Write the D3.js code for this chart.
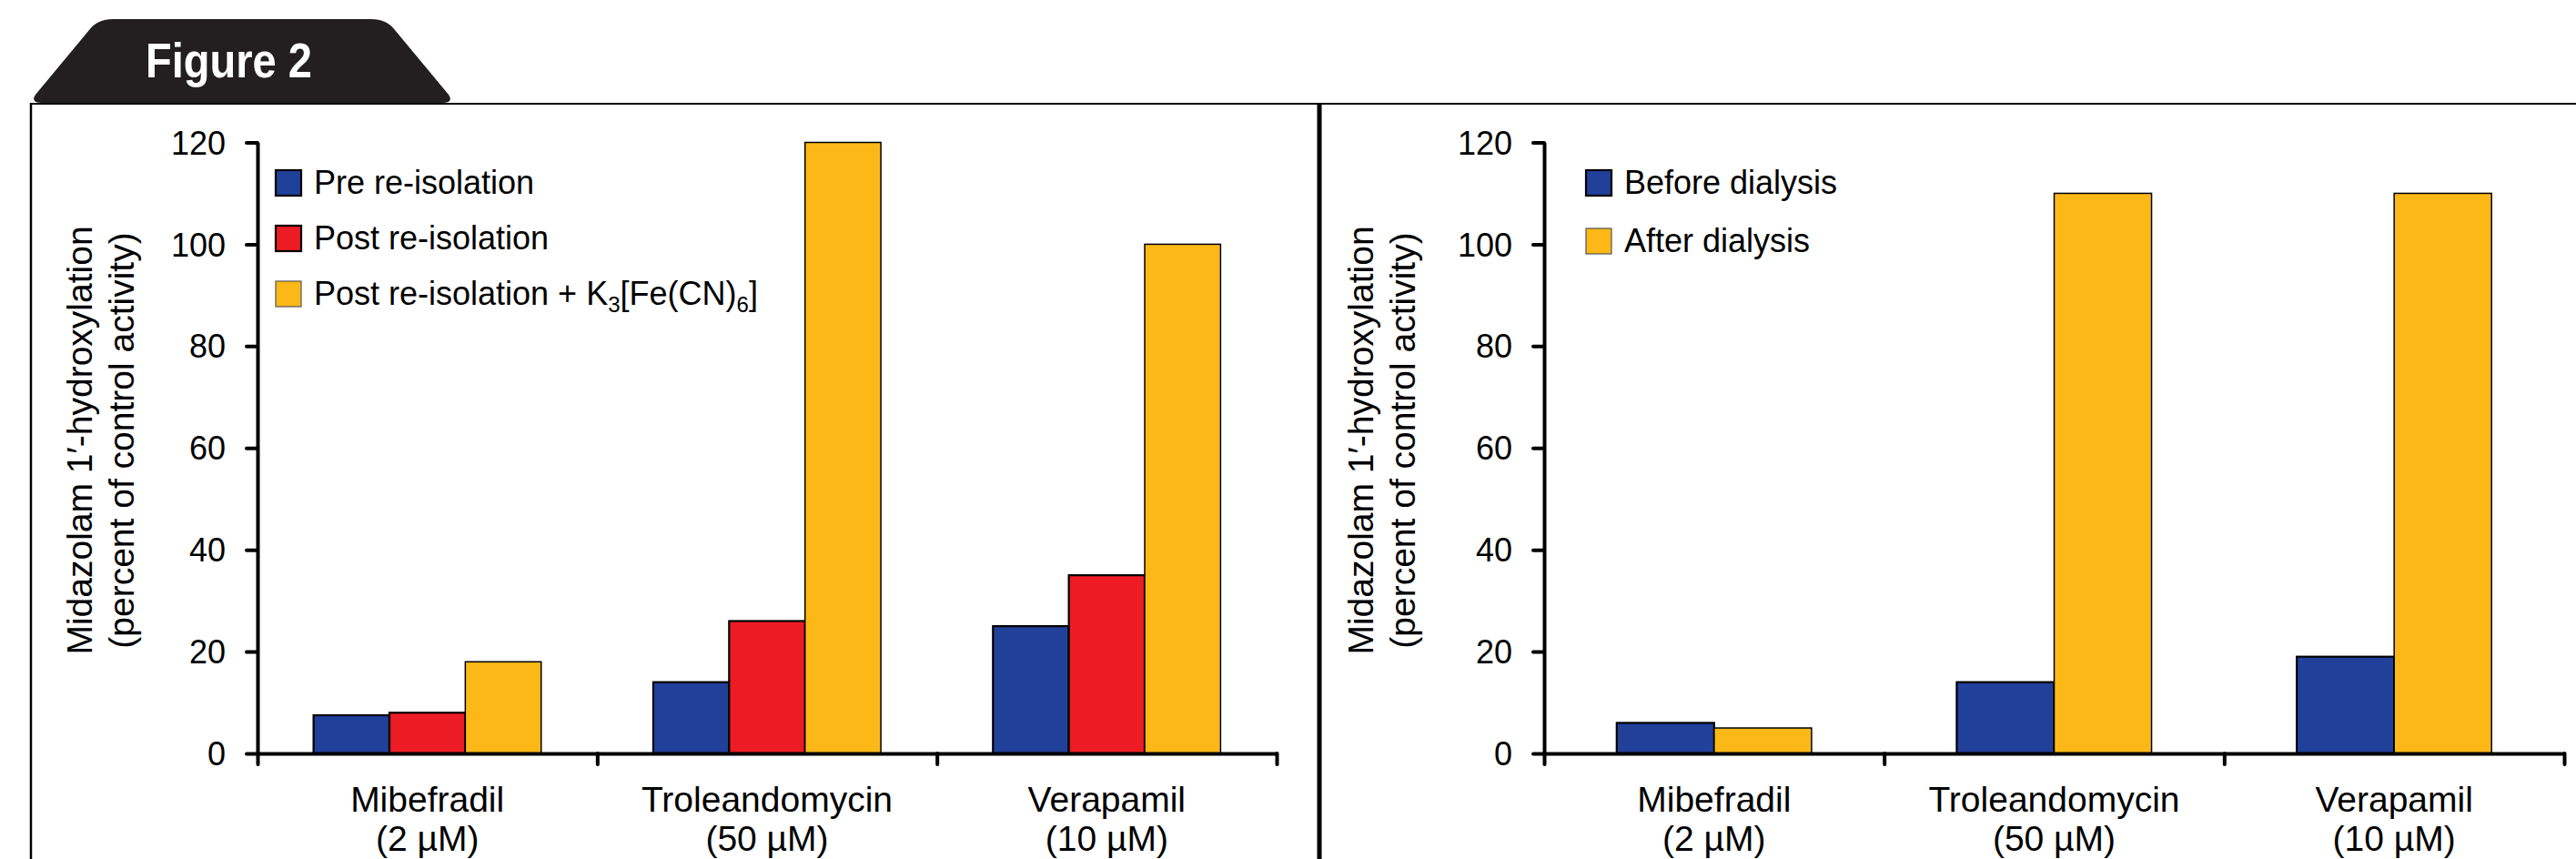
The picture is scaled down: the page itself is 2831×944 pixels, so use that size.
<!DOCTYPE html>
<html>
<head>
<meta charset="utf-8">
<script src="https://cdn.jsdelivr.net/npm/d3@7"></script>
<style>
  html, body { margin: 0; padding: 0; background: #fff; }
  svg { display: block; }
  text { font-family: "Liberation Sans", Arial, Helvetica, sans-serif; fill: #000; }
</style>
</head>
<body>
<svg id="chart" width="2831" height="944"></svg>
<script>
// ---------- DATA ----------
const figureTitle = "Figure 2";
const categories = ["Mibefradil", "Troleandomycin", "Verapamil"];
const concentrations = ["(2 µM)", "(50 µM)", "(10 µM)"];
const yTicks = [0, 20, 40, 60, 80, 100, 120];
const yAxisTitle = ["Midazolam 1′-hydroxylation", "(percent of control activity)"];

// Panel A
const seriesA = ["Pre re-isolation", "Post re-isolation", "Post re-isolation + K3[Fe(CN)6]"];
const preReisolation = [7.5, 14, 25];
const postReisolation = [8, 26, 35];
const postReisolationK3 = [18, 120, 100];

// Panel B
const seriesB = ["Before dialysis", "After dialysis"];
const beforeDialysis = [6, 14, 19];
const afterDialysis = [5, 110, 110];

const colors = ["#21409a", "#ed1c24", "#fbb817"];

// ---------- DRAW ----------
const svg = d3.select("#chart");

// header tab
svg.append("path")
  .attr("d", "M46,113 Q33,113 39,104 L98,33 Q107,21 124,21 L408,21 Q425,21 434,33 L493,104 Q499,113 486,113 Z")
  .attr("fill", "#231f20");
svg.append("text")
  .attr("x", 160).attr("y", 85)
  .attr("font-size", 53).attr("font-weight", "bold")
  .attr("textLength", 183).attr("lengthAdjust", "spacingAndGlyphs")
  .style("fill", "#fff")
  .text(figureTitle);

// frame lines
svg.append("line").attr("x1", 33).attr("x2", 2831).attr("y1", 114).attr("y2", 114)
  .attr("stroke", "#000").attr("stroke-width", 2);
svg.append("line").attr("x1", 34).attr("x2", 34).attr("y1", 113).attr("y2", 944)
  .attr("stroke", "#000").attr("stroke-width", 2.5);
svg.append("line").attr("x1", 1450).attr("x2", 1450).attr("y1", 113).attr("y2", 944)
  .attr("stroke", "#000").attr("stroke-width", 5);

const y = d3.scaleLinear().domain([0, 120]).range([828, 156.5]);

function legendLabel(sel, label) {
  if (label.indexOf("K3[Fe(CN)6]") >= 0) {
    const base = label.replace("K3[Fe(CN)6]", "");
    sel.append("tspan").text(base + "K");
    sel.append("tspan").attr("font-size", 24).attr("dy", 8).text("3");
    sel.append("tspan").attr("dy", -8).text("[Fe(CN)");
    sel.append("tspan").attr("font-size", 24).attr("dy", 8).text("6");
    sel.append("tspan").attr("dy", -8).text("]");
  } else {
    sel.text(label);
  }
}

function panel(cfg) {
  const g = svg.append("g");
  const x0 = d3.scaleBand().domain(categories)
    .range([cfg.axisX, cfg.axisEnd]).paddingInner(cfg.pad).paddingOuter(cfg.pad / 2);
  const x1 = d3.scaleBand().domain(cfg.series.map((d, i) => i))
    .range([0, x0.bandwidth()]).padding(0);

  // bars
  cfg.values.forEach((vals, si) => {
    g.append("g").selectAll("rect").data(vals).join("rect")
      .attr("x", (d, i) => x0(categories[i]) + x1(si))
      .attr("y", d => y(d))
      .attr("width", x1.bandwidth())
      .attr("height", d => y(0) - y(d))
      .attr("fill", cfg.colors[si])
      .attr("stroke", "#000")
      .attr("stroke-width", cfg.colors[si] === "#fbb817" ? 1.5 : 2.2);
  });

  // y axis
  const ya = g.append("g").attr("transform", `translate(${cfg.axisX},0)`)
    .call(d3.axisLeft(y).tickValues(yTicks).tickSize(12).tickSizeOuter(0).tickPadding(23));
  ya.select(".domain").attr("stroke-width", 4);
  ya.selectAll(".tick line").attr("stroke-width", 4).attr("stroke-linecap", "round");
  ya.selectAll(".tick text").attr("font-size", 36)
    .attr("font-family", "'Liberation Sans', Arial, sans-serif").attr("dy", "0.35em");

  // x axis with boundary ticks
  const xt = d3.scaleLinear().domain([0, categories.length]).range([cfg.axisX, cfg.axisEnd]);
  const xa = g.append("g").attr("transform", `translate(0,${y(0)})`)
    .call(d3.axisBottom(xt).tickValues(d3.range(categories.length + 1)).tickFormat("").tickSize(12).tickSizeOuter(0));
  xa.select(".domain").attr("stroke-width", 4);
  xa.selectAll(".tick line").attr("stroke-width", 4).attr("stroke-linecap", "round");

  // category labels
  const cl = g.append("g").selectAll("text").data(categories).join("text")
    .attr("text-anchor", "middle").attr("font-size", 39)
    .attr("x", d => x0(d) + x0.bandwidth() / 2)
    .attr("y", 892);
  cl.append("tspan").text(d => d);
  cl.append("tspan").attr("x", d => x0(d) + x0.bandwidth() / 2).attr("y", 935)
    .text((d, i) => concentrations[i]);

  // y axis title
  yAxisTitle.forEach((t, i) => {
    g.append("text")
      .attr("transform", `translate(${cfg.titleX + i * 46},484) rotate(-90)`)
      .attr("text-anchor", "middle").attr("font-size", 39)
      .text(t);
  });

  // legend
  const lg = g.append("g").selectAll("g").data(cfg.series).join("g")
    .attr("transform", (d, i) => `translate(${cfg.legendX},${187 + i * cfg.legendStep})`);
  lg.append("rect").attr("width", 28).attr("height", 28)
    .attr("fill", (d, i) => cfg.colors[i])
    .attr("stroke", (d, i) => cfg.colors[i] === "#fbb817" ? "#555" : "#000")
    .attr("stroke-width", (d, i) => cfg.colors[i] === "#fbb817" ? 1.2 : 2.2);
  lg.append("text").attr("x", 42).attr("y", 26).attr("font-size", 36)
    .each(function (d) { legendLabel(d3.select(this), d); });
}

panel({
  axisX: 283, axisEnd: 1403, pad: 0.33, titleX: 101, legendX: 303, legendStep: 61,
  series: seriesA, values: [preReisolation, postReisolation, postReisolationK3],
  colors: [colors[0], colors[1], colors[2]]
});
panel({
  axisX: 1697, axisEnd: 2818, pad: 0.427, titleX: 1509, legendX: 1743, legendStep: 64,
  series: seriesB, values: [beforeDialysis, afterDialysis],
  colors: [colors[0], colors[2]]
});
</script>
</body>
</html>
